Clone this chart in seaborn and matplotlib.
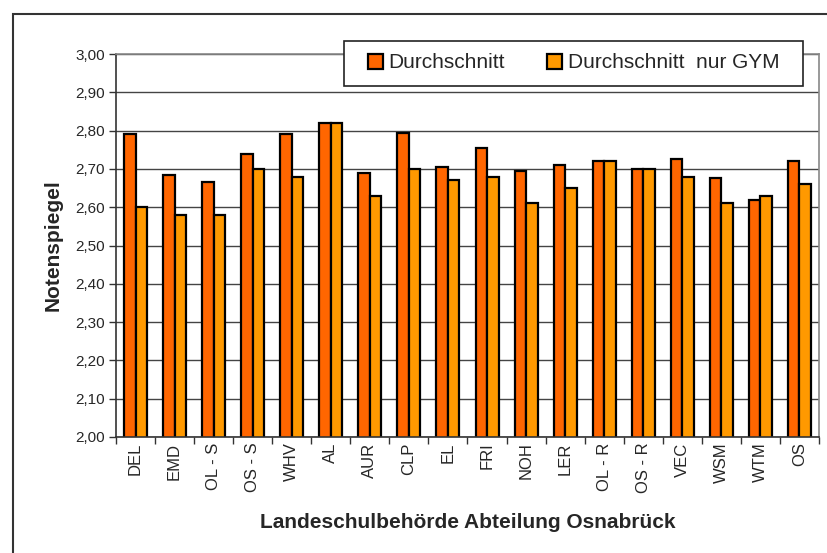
import matplotlib
matplotlib.use("Agg")
import matplotlib.pyplot as plt
import matplotlib.patches as mpatches
from matplotlib.ticker import FuncFormatter, FixedLocator, MultipleLocator
import seaborn as sns
import pandas as pd
import numpy as np

categories = ["DEL", "EMD", "OL - S", "OS - S", "WHV", "AL", "AUR", "CLP", "EL",
              "FRI", "NOH", "LER", "OL - R", "OS - R", "VEC", "WSM", "WTM", "OS"]
durchschnitt = [2.79, 2.685, 2.665, 2.74, 2.79, 2.82, 2.69, 2.795, 2.705,
                2.755, 2.695, 2.71, 2.72, 2.70, 2.725, 2.675, 2.62, 2.72]
durchschnitt_gym = [2.60, 2.58, 2.58, 2.70, 2.68, 2.82, 2.63, 2.70, 2.67,
                    2.68, 2.61, 2.65, 2.72, 2.70, 2.68, 2.61, 2.63, 2.66]
series_names = ["Durchschnitt", "Durchschnitt  nur GYM"]
colors = ["#FF6600", "#FF9900"]

df = pd.DataFrame({
    "cat": categories * 2,
    "series": [series_names[0]] * len(categories) + [series_names[1]] * len(categories),
    "val": durchschnitt + durchschnitt_gym,
})

sns.set_style("white")
plt.rcParams["font.family"] = ["Liberation Sans", "DejaVu Sans"]

W, H = 827, 553
fig = plt.figure(figsize=(W / 100, H / 100), dpi=100)
fig.patch.set_facecolor("white")

L, R, T, B = 116, 819, 54, 437
ax = fig.add_axes([L / W, 1 - B / H, (R - L) / W, (B - T) / H])

sns.barplot(data=df, x="cat", y="val", hue="series", palette=colors,
            width=0.59, edgecolor="black", linewidth=1.6, ax=ax,
            errorbar=None, legend=True, saturation=1)

ax.set_ylim(2.0, 3.0)
ax.set_xlim(-0.5, len(categories) - 0.5)
ax.yaxis.set_major_locator(MultipleLocator(0.1))
ax.yaxis.set_major_formatter(FuncFormatter(lambda v, p: f"{v:.2f}".replace(".", ",")))
ax.grid(axis="y", color="#444444", linewidth=1.0)
ax.set_axisbelow(True)

for s in ["top", "right"]:
    ax.spines[s].set_color("#888888")
    ax.spines[s].set_linewidth(1.2)
for s in ["left", "bottom"]:
    ax.spines[s].set_color("#333333")
    ax.spines[s].set_linewidth(1.2)

ax.tick_params(axis="y", direction="out", length=5, width=1, color="#333333",
               labelsize=11, pad=3, left=True)
ax.set_xticks(range(len(categories)))
ax.set_xticklabels(categories, rotation=90, fontsize=12)
ax.tick_params(axis="x", which="major", length=0, pad=4)
ax.xaxis.set_minor_locator(FixedLocator(np.arange(-0.5, len(categories), 1.0)))
ax.tick_params(axis="x", which="minor", direction="out", length=5, width=1,
               color="#333333", bottom=True)

ax.set_ylabel("Notenspiegel", fontsize=15, fontweight="bold", labelpad=9)
ax.set_xlabel("Landeschulbehörde Abteilung Osnabrück", fontsize=15,
              fontweight="bold", labelpad=14)

# legend box drawn separately so its size can match the original
box = mpatches.Rectangle((344 / W, 1 - 86 / H), (803 - 344) / W, 45 / H,
                         transform=fig.transFigure, facecolor="white",
                         edgecolor="#222222", linewidth=1.2, zorder=5)
fig.patches.append(box)

handles, labels = ax.get_legend_handles_labels()
ax.get_legend().remove()
leg = fig.legend(handles, labels, loc="center", ncol=2,
                 bbox_to_anchor=((344 + 803) / 2 / W, 1 - 63 / H),
                 fontsize=15, frameon=False,
                 handlelength=0.72, handleheight=0.72, handletextpad=0.25,
                 columnspacing=2.05, borderpad=0, borderaxespad=0)
leg.set_zorder(6)
for h in leg.legend_handles:
    h.set_edgecolor("black")
    h.set_linewidth(1.6)

frame = mpatches.Rectangle((13 / W, -0.05), 1.1, 1 - 14 / H + 0.05,
                           transform=fig.transFigure, fill=False,
                           edgecolor="#333333", linewidth=1.5, clip_on=False)
fig.patches.append(frame)

fig.savefig("out.png", dpi=100)
